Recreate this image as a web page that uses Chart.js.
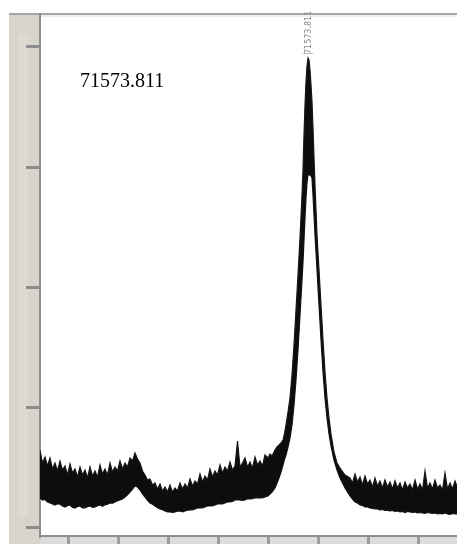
<!DOCTYPE html>
<html>
<head>
<meta charset="utf-8">
<script src="https://cdn.jsdelivr.net/npm/chart.js@4.4.1/dist/chart.umd.min.js"></script>
<style>
  body { margin: 0; background: #fff; }
  #wrap { width: 457px; height: 544px; }
</style>
</head>
<body>
<div id="wrap"><canvas id="myChart"></canvas></div>
<script>
// m/z de cada punto
const mz = [60850, 60950, 61050, 61150, 61250, 61350, 61450, 61550, 61650, 61750,
  61850, 61950, 62050, 62150, 62250, 62350, 62450, 62550, 62650, 62750,
  62850, 62950, 63050, 63150, 63250, 63350, 63450, 63550, 63650, 63750,
  63850, 63950, 64050, 64150, 64250, 64350, 64450, 64550, 64650, 64750,
  64850, 64950, 65050, 65150, 65250, 65350, 65450, 65550, 65650, 65750,
  65850, 65950, 66050, 66150, 66250, 66350, 66450, 66550, 66650, 66750,
  66850, 66950, 67050, 67150, 67250, 67350, 67450, 67550, 67650, 67750,
  67850, 67950, 68050, 68150, 68250, 68350, 68450, 68550, 68650, 68750,
  68850, 68950, 69050, 69150, 69250, 69350, 69450, 69550, 69650, 69750,
  69850,
  69970, 70050, 70130, 70250, 70330, 70410, 70490, 70570, 70610, 70690,
  70770, 70850, 70930, 71010, 71090, 71170, 71250, 71330, 71370, 71410,
  71450, 71490, 71530, 71570, 71610, 71650, 71690, 71730, 71770, 71810,
  71850, 71890, 71930, 72010, 72090, 72170, 72250, 72330, 72410, 72490,
  72610, 72730, 72850, 73050, 73250,
  73350, 73450, 73550, 73650, 73750, 73850, 73950, 74050, 74150, 74250,
  74350, 74450, 74550, 74650, 74750, 74850, 74950, 75050, 75150, 75250,
  75350, 75450, 75550, 75650, 75750, 75850, 75950, 76050, 76150, 76250,
  76350, 76450, 76550, 76650, 76750, 76850, 76950, 77050, 77150, 77250,
  77350, 77450, 77530];

// borde superior de la traza con ruido
const upperEdge = [770, 640, 700, 610, 690, 580, 640, 560, 660, 570,
  610, 520, 630, 540, 580, 500, 600, 520, 570, 490,
  600, 510, 560, 500, 620, 530, 580, 520, 640, 550,
  600, 560, 660, 580, 640, 600, 690, 660, 740, 680,
  640, 560, 520, 470, 480, 420, 440, 380, 430, 360,
  400, 350, 420, 350, 390, 360, 440, 380, 430, 390,
  480, 410, 460, 430, 530, 450, 510, 470, 580, 500,
  560, 520, 620, 540, 600, 560, 650, 570, 610, 860,
  600, 640, 690, 600, 650, 590, 700, 620, 660, 610,
  720,
  690, 730, 710, 770, 800, 820, 840, 870, 910, 1020,
  1150, 1290, 1520, 1820, 2170, 2520, 2890, 3320, 3570, 3920,
  4220, 4450, 4610, 4690, 4670, 4570, 4420, 4250, 3990, 3690,
  3420, 3170, 2920, 2570, 2220, 1870, 1550, 1290, 1090, 930,
  750, 640, 590, 520, 490,
  440, 530, 450, 500, 420, 510, 430, 470, 400, 490,
  410, 460, 390, 470, 400, 450, 380, 460, 390, 440,
  370, 450, 390, 430, 370, 470, 380, 430, 370, 560,
  390, 440, 380, 470, 390, 420, 370, 540, 380, 440,
  380, 460, 410];

// borde inferior de la traza
const lowerEdge = [290, 270, 275, 250, 240, 230, 220, 232, 228, 210,
  200, 212, 220, 196, 190, 204, 210, 190, 192, 202,
  210, 196, 200, 212, 220, 208, 222, 228, 240, 238,
  250, 262, 270, 280, 300, 322, 350, 378, 410, 400,
  370, 330, 300, 266, 240, 228, 210, 192, 180, 172,
  160, 150, 150, 146, 150, 158, 160, 152, 160, 168,
  170, 172, 180, 190, 190, 192, 200, 210, 210, 212,
  220, 230, 230, 232, 240, 250, 250, 256, 270, 270,
  270, 266, 270, 282, 280, 284, 290, 294, 290, 292,
  300,
  310, 330, 350, 390, 440, 490, 550, 620, 660, 720,
  800, 890, 1020, 1220, 1470, 1770, 2120, 2470, 2650, 2870,
  3090, 3290, 3440, 3520, 3520, 3520, 3510, 3490, 3320, 3120,
  2920, 2750, 2570, 2220, 1870, 1550, 1290, 1090, 930, 810,
  670, 570, 490, 390, 310,
  280, 250, 240, 220, 215, 200, 200, 190, 185, 180,
  180, 170, 175, 165, 165, 160, 165, 155, 160, 150,
  155, 145, 155, 150, 145, 150, 140, 145, 140, 135,
  145, 140, 135, 140, 130, 135, 130, 140, 130, 125,
  135, 130, 130];

const xTicks = [62000, 64000, 66000, 68000, 70000, 72000, 74000, 76000];
const yTicks = [0, 1200, 2400, 3600, 4800];
const peakMz = 71573.811;
const peakText = '71573.811';

// fondo: franja beige a la izquierda y abajo, linea gris arriba
const frame = {
  id: 'frame',
  beforeDraw(chart) {
    const c = chart.ctx;
    const a = chart.chartArea;
    c.save();
    c.fillStyle = '#ffffff';
    c.fillRect(0, 0, chart.width, chart.height);
    c.fillStyle = '#d7d4cb';
    c.fillRect(9, a.top - 1, a.left - 9, chart.height - a.top + 1);
    c.fillStyle = '#dddad2';
    c.fillRect(18, a.top + 20, 10, a.bottom - a.top - 40);
    c.fillStyle = '#dcdcdc';
    c.fillRect(a.left, a.bottom, chart.width - a.left, chart.height - a.bottom);
    c.fillStyle = '#a6a6a6';
    c.fillRect(9, a.top - 1, chart.width - 9, 2);
    c.fillStyle = '#ececec';
    c.fillRect(a.left, a.top + 1, a.right - a.left, 2);
    c.restore();
  },
  afterDatasetsDraw(chart) {
    const c = chart.ctx;
    const px = chart.scales.x.getPixelForValue(peakMz);
    c.save();
    c.fillStyle = '#000';
    c.font = '20px "Liberation Serif", "Times New Roman", serif';
    c.textBaseline = 'alphabetic';
    c.fillText(peakText, 80, 87);
    // etiqueta vertical sobre el pico
    c.translate(px + 3, 54);
    c.rotate(-Math.PI / 2);
    c.fillStyle = '#8a8a8a';
    c.font = '8px "DejaVu Sans", sans-serif';
    c.fillText(peakText, 0, 0);
    c.restore();
    c.save();
    c.fillStyle = '#bdbdbd';
    c.fillRect(px - 5, 53, 10, 1);
    c.restore();
  }
};

const ctx = document.getElementById('myChart').getContext('2d');
window.myChart = new Chart(ctx, {
  type: 'line',
  data: {
    datasets: [{
        label: 'upper',
        data: mz.map((x, i) => ({ x: x, y: upperEdge[i] })),
        borderColor: '#161616',
        borderWidth: 1.2,
        backgroundColor: '#0d0d0d',
        pointRadius: 0,
        tension: 0,
        fill: '+1'
      },
      {
        label: 'lower',
        data: mz.map((x, i) => ({ x: x, y: lowerEdge[i] })),
        borderColor: '#161616',
        borderWidth: 1.2,
        pointRadius: 0,
        tension: 0,
        fill: false
      }
    ]
  },
  options: {
    responsive: true,
    maintainAspectRatio: false,
    devicePixelRatio: 1,
    animation: false,
    layout: { padding: { top: 14, left: 0, right: 0, bottom: 0 } },
    plugins: {
      legend: { display: false },
      tooltip: { enabled: false }
    },
    scales: {
      x: {
        type: 'linear',
        min: 60850,
        max: 77530,
        afterBuildTicks: s => { s.ticks = xTicks.map(v => ({ value: v })); },
        afterFit: s => { s.height = 8; },
        ticks: { display: false },
        grid: { drawOnChartArea: false, tickLength: 8, color: '#9c9c9c', lineWidth: 3 },
        border: { color: '#8e8e8e', width: 2 }
      },
      y: {
        type: 'linear',
        min: -90,
        max: 5130,
        afterBuildTicks: s => { s.ticks = yTicks.map(v => ({ value: v })); },
        afterFit: s => { s.width = 40; },
        ticks: { display: false },
        grid: { drawOnChartArea: false, tickLength: 14, color: '#8c8c8c', lineWidth: 3 },
        border: { color: '#8e8e8e', width: 2 }
      }
    }
  },
  plugins: [frame]
});
</script>
</body>
</html>
